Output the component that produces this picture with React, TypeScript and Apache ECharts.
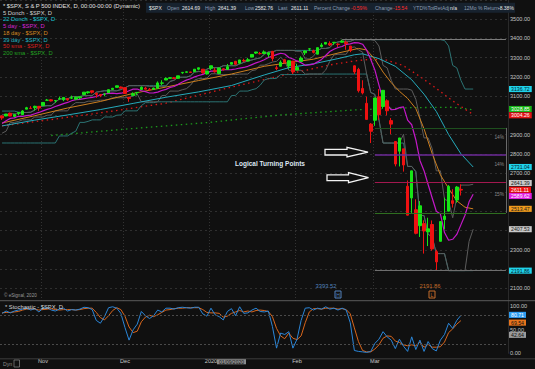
import React, { useEffect, useRef } from 'react';
import * as echarts from 'echarts';

// ---------- DATA ----------
const dates = [
  '10/18/2019','10/21/2019','10/22/2019','10/23/2019','10/24/2019','10/25/2019','10/28/2019','10/29/2019','10/30/2019','10/31/2019',
  '11/01/2019','11/04/2019','11/05/2019','11/06/2019','11/07/2019','11/08/2019','11/11/2019','11/12/2019','11/13/2019','11/14/2019',
  '11/15/2019','11/18/2019','11/19/2019','11/20/2019','11/21/2019','11/22/2019','11/25/2019','11/26/2019','11/27/2019','11/29/2019',
  '12/02/2019','12/03/2019','12/04/2019','12/05/2019','12/06/2019','12/09/2019','12/10/2019','12/11/2019','12/12/2019','12/13/2019',
  '12/16/2019','12/17/2019','12/18/2019','12/19/2019','12/20/2019','12/23/2019','12/24/2019','12/26/2019','12/27/2019','12/30/2019','12/31/2019',
  '01/02/2020','01/03/2020','01/06/2020','01/07/2020','01/08/2020','01/09/2020','01/10/2020','01/13/2020','01/14/2020','01/15/2020',
  '01/16/2020','01/17/2020','01/21/2020','01/22/2020','01/23/2020','01/24/2020','01/27/2020','01/28/2020','01/29/2020','01/30/2020','01/31/2020',
  '02/03/2020','02/04/2020','02/05/2020','02/06/2020','02/07/2020','02/10/2020','02/11/2020','02/12/2020','02/13/2020','02/14/2020',
  '02/18/2020','02/19/2020','02/20/2020','02/21/2020','02/24/2020','02/25/2020','02/26/2020','02/27/2020','02/28/2020',
  '03/02/2020','03/03/2020','03/04/2020','03/05/2020','03/06/2020','03/09/2020','03/10/2020','03/11/2020','03/12/2020','03/13/2020',
  '03/16/2020','03/17/2020','03/18/2020','03/19/2020','03/20/2020','03/23/2020','03/24/2020','03/25/2020','03/26/2020','03/27/2020','03/30/2020','03/31/2020'
];
const emptySlots = ['+1','+2','+3','+4','+5','+6','+7','+8','+9','+10','+11'];

const opens = [
  2996.8,2996.5,3010.7,2994.0,3014.8,3003.3,3032.1,3035.4,3039.7,3046.9,
  3050.7,3078.9,3080.8,3075.1,3087.0,3081.3,3080.3,3089.3,3084.2,3090.8,3107.9,3117.9,3127.5,3114.7,3108.5,3111.4,3117.4,3134.9,3145.5,3147.2,
  3143.8,3087.4,3103.5,3119.2,3134.6,3141.9,3135.4,3135.8,3141.2,3166.7,3183.6,3195.4,3195.2,3192.3,3223.3,3226.1,3225.5,3227.2,3247.2,3240.1,3215.2,
  3244.7,3226.4,3217.6,3241.9,3238.6,3266.0,3281.0,3271.1,3285.4,3282.3,3303.0,3323.7,3321.0,3330.0,3315.8,3333.1,3247.2,3255.4,3289.5,3256.5,3282.3,
  3235.7,3280.6,3324.9,3344.9,3335.5,3318.3,3365.9,3370.5,3365.9,3378.1,3369.0,3380.4,3380.5,3360.5,3257.6,3238.9,3139.9,3062.5,2916.9,
  2974.3,3096.5,3045.8,3075.7,2954.2,2863.9,2813.5,2825.6,2630.9,2570.0,2508.6,2425.7,2436.5,2393.5,2431.9,2290.7,2344.4,2457.8,2501.3,2555.9,2559.0,2614.7
];
const highs = [
  3000.0,3007.3,3014.6,3004.8,3016.1,3027.4,3044.1,3047.9,3050.1,3046.9,
  3066.9,3085.2,3083.9,3078.3,3097.8,3093.1,3088.3,3102.6,3098.1,3098.2,3120.5,3124.2,3127.6,3119.0,3110.1,3112.9,3133.8,3142.7,3154.3,3150.3,
  3144.3,3095.0,3119.4,3119.4,3150.6,3148.9,3142.1,3144.0,3176.3,3182.7,3197.7,3198.2,3198.5,3205.5,3225.6,3227.8,3226.4,3240.1,3247.9,3240.9,3231.7,
  3258.1,3246.2,3246.8,3244.9,3267.1,3275.6,3283.0,3288.1,3294.2,3298.7,3317.1,3329.9,3329.8,3337.8,3326.9,3333.2,3258.9,3285.8,3293.5,3285.9,3282.3,
  3268.4,3306.9,3337.6,3348.0,3341.4,3352.3,3375.6,3381.5,3385.1,3380.7,3375.0,3393.5,3389.2,3360.8,3259.8,3247.0,3182.5,3097.1,2959.7,
  3091.0,3136.7,3131.0,3083.0,2985.9,2863.9,2882.6,2825.6,2661.0,2711.3,2563.0,2553.9,2453.6,2467.0,2453.0,2300.7,2449.7,2571.4,2637.0,2615.9,2631.8,2641.4
];
const lows = [
  2976.3,2995.4,2995.0,2991.2,3000.4,3001.9,3032.1,3034.8,3025.0,3023.2,
  3050.7,3074.9,3072.2,3065.9,3080.3,3073.6,3075.8,3084.7,3078.8,3083.3,3104.6,3112.1,3113.5,3091.4,3094.6,3099.3,3117.4,3131.0,3143.4,3139.3,
  3110.8,3070.3,3102.5,3103.8,3134.6,3135.5,3126.1,3133.2,3138.5,3156.5,3183.6,3191.0,3191.1,3192.3,3216.0,3222.3,3220.5,3227.2,3234.4,3216.6,3212.0,
  3235.5,3222.3,3214.6,3232.4,3236.7,3263.7,3260.9,3268.4,3277.2,3280.7,3302.8,3318.9,3316.6,3320.0,3301.9,3281.5,3234.5,3253.2,3271.9,3242.8,3214.7,
  3235.7,3280.6,3313.8,3334.4,3322.1,3317.8,3352.7,3369.7,3360.5,3366.2,3355.6,3378.8,3341.0,3328.5,3214.7,3118.8,3109.0,2977.4,2855.8,
  2945.2,2976.6,3034.4,2999.8,2901.5,2734.4,2734.0,2707.2,2478.9,2492.4,2380.9,2367.0,2280.5,2319.8,2295.6,2191.9,2344.4,2407.5,2500.7,2520.0,2545.3,2582.8
];
const closes = [
  2986.2,3006.7,2996.0,3004.5,3010.3,3022.6,3039.4,3036.9,3046.8,3037.6,
  3066.9,3078.3,3074.6,3076.8,3085.2,3093.1,3087.0,3091.8,3094.0,3096.6,3120.5,3122.0,3120.2,3108.5,3103.5,3110.3,3133.6,3140.5,3153.6,3141.0,
  3113.9,3093.2,3112.8,3117.4,3145.9,3136.0,3132.5,3141.6,3168.6,3168.8,3191.5,3192.5,3191.1,3205.4,3221.2,3224.0,3223.4,3239.9,3240.0,3221.3,3230.8,
  3257.9,3234.9,3246.3,3237.2,3253.1,3274.7,3265.4,3288.1,3283.2,3289.3,3316.8,3329.6,3320.8,3321.8,3325.5,3295.5,3243.6,3276.2,3273.4,3283.7,3225.5,
  3248.9,3297.6,3334.7,3345.8,3327.7,3352.1,3357.8,3379.5,3373.9,3380.2,3370.3,3386.2,3373.2,3337.8,3225.9,3128.2,3116.4,2978.8,2954.2,
  3090.2,3003.4,3130.1,3023.9,2972.4,2746.6,2882.2,2741.4,2480.6,2711.0,2386.1,2529.2,2398.1,2409.4,2304.9,2237.4,2447.3,2475.6,2630.1,2541.5,2626.7,2611.1
];

// Displaced indicators, one value per chart slot (slot 0 .. 115)
const donch5Upper = [
  3003,3003,3008,3008,3008,3014.6,3014.6,3016.1,3027.4,3044.1,
  3047.9,3050.1,3050.1,3066.9,3085.2,3085.2,3085.2,3097.8,3097.8,3097.8,
  3102.6,3102.6,3102.6,3120.5,3124.2,3127.6,3127.6,3127.6,3127.6,3133.8,
  3142.7,3154.3,3154.3,3154.3,3154.3,3154.3,3150.3,3150.6,3150.6,3150.6,
  3150.6,3176.3,3182.7,3197.7,3198.2,3198.5,3205.5,3225.6,3227.8,3227.8,
  3240.1,3247.9,3247.9,3247.9,3258.1,3258.1,3258.1,3258.1,3267.1,3275.6,
  3283.0,3288.1,3294.2,3298.7,3317.1,3329.9,3329.9,3337.8,3337.8,3337.8,
  3337.8,3337.8,3333.2,3333.2,3293.5,3293.5,3306.9,3337.6,3348.0,3348.0,
  3352.3,3375.6,3381.5,3385.1,3385.1,3385.1,3393.5,3393.5,3393.5,3393.5,
  3393.5,3389.2,3360.8,3259.8,3247.0,3182.5,3136.7,3136.7,3136.7,3136.7,
  3131.0,3083.0,2985.9,2882.6,2882.6,2825.6,2711.3,2711.3,2563.0,2553.9,
  2467.0,2571.4,2637.0,2637.0,2637.0,2641.4
];
const donch5Lower = [
  2907,2918,2963,2963,2968,2976.3,2976.3,2976.3,2991.2,2991.2,
  2991.2,3000.4,3001.9,3023.2,3023.2,3023.2,3023.2,3050.7,3065.9,3065.9,
  3065.9,3073.6,3073.6,3075.8,3078.8,3078.8,3083.3,3091.4,3091.4,3091.4,
  3091.4,3094.6,3099.3,3110.8,3070.3,3070.3,3070.3,3070.3,3070.3,3102.5,
  3103.8,3126.1,3126.1,3126.1,3133.2,3138.5,3156.5,3183.6,3191.0,3191.1,
  3192.3,3216.0,3216.6,3212.0,3212.0,3212.0,3212.0,3212.0,3214.6,3214.6,
  3214.6,3232.4,3236.7,3260.9,3260.9,3268.4,3277.2,3280.7,3301.9,3281.5,
  3234.5,3234.5,3234.5,3234.5,3214.7,3214.7,3214.7,3214.7,3214.7,3235.7,
  3280.6,3313.8,3317.8,3317.8,3317.8,3352.7,3355.6,3341.0,3328.5,3214.7,
  3118.8,3109.0,2977.4,2855.8,2855.8,2855.8,2855.8,2855.8,2901.5,2734.4,
  2734.0,2707.2,2478.9,2478.9,2380.9,2367.0,2280.5,2280.5,2280.5,2191.9,
  2191.9,2191.9,2191.9,2191.9,2344.4,2407.5
];
const donch22Upper = [
  3022,3022,3022,3022,3016.4,3014.6,3014.6,3016.1,3027.4,3044.1,
  3047.9,3050.1,3050.1,3066.9,3085.2,3085.2,3085.2,3097.8,3097.8,3097.8,
  3102.6,3102.6,3102.6,3120.5,3124.2,3127.6,3127.6,3127.6,3127.6,3133.8,
  3142.7,3154.3,3154.3,3154.3,3154.3,3154.3,3154.3,3154.3,3154.3,3154.3,
  3154.3,3176.3,3182.7,3197.7,3198.2,3198.5,3205.5,3225.6,3227.8,3227.8,
  3240.1,3247.9,3247.9,3247.9,3258.1,3258.1,3258.1,3258.1,3267.1,3275.6,
  3283.0,3288.1,3294.2,3298.7,3317.1,3329.9,3329.9,3337.8,3337.8,3337.8,
  3337.8,3337.8,3337.8,3337.8,3337.8,3337.8,3337.8,3337.8,3348.0,3348.0,
  3352.3,3375.6,3381.5,3385.1,3385.1,3385.1,3393.5,3393.5,3393.5,3393.5,
  3393.5,3393.5,3393.5,3393.5,3393.5,3393.5,3393.5,3393.5,3393.5,3393.5,
  3393.5,3393.5,3393.5,3393.5,3393.5,3393.5,3393.5,3393.5,3389.2,3360.8,
  3259.8,3247.0,3182.5,3136.7,3136.7,3136.7
];
const donch22Lower = [
  2856,2856,2856,2856,2856,2856,2856,2856,2856,2856,
  2856,2856,2856,2856,2892.7,2892.7,2892.7,2907.1,2917.6,2963.4,
  2962.9,2968.4,2976.3,2976.3,2976.3,2991.2,2991.2,2991.2,3000.4,3001.9,
  3023.2,3023.2,3023.2,3023.2,3050.7,3065.9,3065.9,3065.9,3070.3,3070.3,
  3070.3,3070.3,3070.3,3070.3,3070.3,3070.3,3070.3,3070.3,3070.3,3070.3,
  3070.3,3070.3,3070.3,3070.3,3070.3,3070.3,3102.5,3103.8,3126.1,3126.1,
  3126.1,3133.2,3138.5,3156.5,3183.6,3191.0,3191.1,3192.3,3212.0,3212.0,
  3212.0,3212.0,3212.0,3212.0,3212.0,3214.6,3214.6,3214.6,3214.7,3214.7,
  3214.7,3214.7,3214.7,3214.7,3214.7,3214.7,3214.7,3214.7,3214.7,3214.7,
  3118.8,3109.0,2977.4,2855.8,2855.8,2855.8,2855.8,2855.8,2855.8,2734.4,
  2734.0,2707.2,2478.9,2478.9,2380.9,2367.0,2280.5,2280.5,2280.5,2191.9,
  2191.9,2191.9,2191.9,2191.9,2191.9,2191.9
];
const day5 = [
  2958,2972,2984,2987,2995,2995,2998,3001,3008,3015,
  3023,3031,3037,3046,3053,3061,3067,3076,3082,3083,
  3087,3090,3093,3098,3105,3111,3114,3115,3113,3115,
  3119,3128,3136,3137,3128,3123,3116,3117,3121,3129,
  3135,3145,3150,3161,3173,3183,3190,3200,3207,3213,
  3223,3230,3230,3231,3238,3237,3238,3241,3246,3249,
  3255,3264,3273,3280,3289,3301,3308,3316,3323,3319,
  3301,3293,3283,3274,3260,3262,3266,3278,3291,3311,
  3332,3344,3353,3358,3369,3372,3378,3377,3370,3339,
  3290,3236,3157,3081,3054,3029,3031,3040,3044,2975,
  2951,2873,2765,2712,2640,2570,2501,2487,2390,2350,
  2355,2380,2430,2480,2550,2589.6
];
// [slot, value] readings
const day18 = [
  [0,2960],[8,2998],[16,3038],[24,3072],[32,3114],[40,3147],[48,3181],[56,3215],[64,3255],[70,3274],
  [76,3292],[82,3324],[87,3348],[89,3340],[91,3292],[93,3225],[95,3170],[97,3125],[99,3088],[101,3035],
  [103,2930],[105,2800],[107,2690],[109,2620],[111,2555],[113,2522],[115,2513.47]
];
const day39 = [
  [0,2945],[8,2975],[16,3002],[24,3030],[32,3062],[40,3094],[48,3122],[56,3155],[64,3210],[70,3248],
  [76,3268],[82,3295],[86,3315],[88,3320],[92,3295],[96,3255],[100,3185],[103,3110],[106,3020],[109,2900],
  [112,2800],[115,2731.04]
];
const sma50 = [
  [0,2945],[12,2978],[24,3013],[40,3063],[56,3147],[70,3215],[80,3262],[86,3283],[90,3292],[94,3287],
  [98,3258],[102,3202],[106,3140],[110,3075],[113,3032],[115,3004.26]
];
const sma200 = [
  [12,2895],[30,2928],[50,2962],[68,3002],[86,3028],[100,3040],[110,3042],[115,3028.85]
];

// Stochastic (one value per bar)
const stochK = [
  85,90,86,90,92,94,96,92,95,88, 96,97,92,90,94,96,90,93,92,94,
  98,97,93,70,64,78,97,99,96,85, 55,28,50,62,89,80,74,80,92,88,
  96,96,94,97,98,97,96,98,98,84, 79,96,82,78,71,89,95,80,99,85,
  86,92,96,89,88,90,57,11,43,40, 46,11,30,70,96,97,92,96,94,99,
  94,96,92,96,92,65,6,4,3,2, 4,21,30,46,35,28,10,30,15,4,
  35,8,28,4,25,10,5,28,40,64, 53,70,80.71
];
const stochD = [
  86,87,87,88,89,92,94,94,94,92, 93,94,95,93,92,93,93,93,92,93,
  95,96,96,87,76,71,80,91,97,93, 79,56,44,47,67,77,81,78,82,87,
  92,93,95,96,96,97,97,97,97,93, 87,86,86,85,77,79,85,88,91,88,
  90,88,91,92,91,89,78,53,37,31, 43,32,29,37,65,88,95,95,94,96,
  96,96,94,95,93,84,54,25,6,3, 3,9,18,32,37,36,26,23,18,16,
  18,16,24,13,19,13,13,14,24,44, 52,62,69.54
];

// Retracement levels drawn from the Feb high to the Mar low
const fibLevels = [3393.52, 2934.5, 2792.7, 2650.9, 2492.3, 2191.86];
const fibStart = [83, 91, 91, 91, 91, 91];
const fibColors = ['#7a7a7a', '#1e4f1e', '#6c2a98', '#a3184f', '#2e6e1f', '#6e6e6e'];

// Axis value flags
const priceFlagValues = [3136.72, 3028.85, 3004.26, 2731.04, 2641.39, 2611.11, 2589.62, 2513.47, 2407.53, 2191.86];
const priceFlagBg = ['#1fd3ea', '#17b417', '#e31414', '#1fd3ea', '#c8c8c8', '#f01010', '#e01ee0', '#f09a1c', '#c8c8c8', '#1fd3ea'];
const priceFlagFg = ['#062530', '#ffffff', '#ffffff', '#062530', '#202020', '#ffffff', '#ffffff', '#202020', '#202020', '#062530'];
const priceFlagShift = [0, -0.8, 0.8, 0, -1.2, -0.3, 1.8, 0, 0, 0];
const stochFlagValues = [80.71, 69.54, 42.64];
const stochFlagBg = ['#2e9cf0', '#e8741c', '#9a9a9a'];
const stochFlagFg = ['#ffffff', '#101010', '#101010'];
const stochFlagShift = [-0.5, 2, 1.6];

const monthTickDates = ['11/01/2019', '12/02/2019', '01/02/2020', '02/03/2020', '03/02/2020'];
const monthTickText = ['Nov', 'Dec', '2020', 'Feb', 'Mar'];
const cursorDate = '01/09/2020';

const legendTexts = [
  '* $SPX, S & P 500 INDEX, D, 00:00-00:00 (Dynamic)',
  '5 Donch - $SPX, D', '22 Donch - $SPX, D', '5 day - $SPX, D', '18 day - $SPX, D',
  '39 day - $SPX, D', '50 sma - $SPX, D', '200 sma - $SPX, D'
];
const legendColors = ['#e2e2e2', '#cfcfcf', '#18c4d4', '#d424d4', '#d88a22', '#22b4c4', '#d42020', '#22a022'];

const headerItems: [string, number, string][] = [
  ['$SPX', 149, '#e8e8e8'], ['Open', 167, '#8d9db2'], ['2614.69', 182, '#e8e8e8'],
  ['High', 205, '#8d9db2'], ['2641.39', 218, '#e8e8e8'], ['Low', 245, '#8d9db2'], ['2582.76', 255, '#e8e8e8'],
  ['Last', 278, '#8d9db2'], ['2611.11', 291, '#e8e8e8'], ['Percent Change', 314, '#8d9db2'], ['-0.59%', 351, '#ff2b2b'],
  ['Change', 375, '#8d9db2'], ['-15.54', 393, '#ff2b2b'], ['YTD%TotRetAdj', 413, '#8d9db2'], ['n/a', 450, '#e8e8e8'],
  ['12Mo % Return', 464, '#8d9db2'], ['-8.38%', 498, '#e8e8e8']
];

// ---------- STYLE ----------
const BG = '#101010';
const UP = '#16e616';
const DOWN = '#ee1111';
const FONT = '"Liberation Sans", Arial, sans-serif';

function txt(x: number, y: number, text: string, fill: string, size = 5.8, align = 'left', weight = 'normal') {
  return {
    type: 'text', x, y, z: 100, silent: true,
    style: {
      text, fill, font: `${weight} ${size}px ${FONT}`,
      textAlign: align, align, textVerticalAlign: 'middle', verticalAlign: 'middle'
    }
  };
}

function arrow(x0: number, xb: number, x1: number, cy: number, sh: number, hh: number) {
  return {
    type: 'polygon', z: 100, silent: true,
    shape: { points: [[x0, cy - sh], [xb, cy - sh], [xb, cy - hh], [x1, cy], [xb, cy + hh], [xb, cy + sh], [x0, cy + sh]] },
    style: { fill: BG, stroke: '#f2f2f2', lineWidth: 1.3 }
  };
}

function buildOption() {
  const cats = dates.concat(emptySlots);
  const candleData = closes.map((c, i) => {
    const up = i === 0 ? c >= opens[i] : c >= closes[i - 1];
    const col = up ? UP : DOWN;
    return {
      value: [opens[i], c, lows[i], highs[i]],
      itemStyle: { color: col, color0: col, borderColor: col, borderColor0: col, borderColorDoji: col }
    };
  });

  const lastSlot = cats.length - 1;
  const fibLines: any[] = fibLevels.map((v, k) => [
    { coord: [fibStart[k], v], lineStyle: { color: fibColors[k], width: k === 2 ? 1.6 : 1.2, type: 'solid' } },
    { coord: [lastSlot, v] }
  ]);
  fibLines.push([
    { coord: [lastSlot, fibLevels[1]], lineStyle: { color: '#6a6a6a', width: 1, type: 'solid' } },
    { coord: [lastSlot, fibLevels[4]] }
  ]);

  const flag = (v: number, bg: string, fg: string, dy: number) => ({
    yAxis: v,
    lineStyle: { width: 0, color: 'rgba(0,0,0,0)' },
    label: {
      show: true, position: 'end', distance: 1, formatter: v.toFixed(2), offset: [0, dy],
      backgroundColor: bg, color: fg, fontSize: 5.2, fontFamily: FONT,
      padding: [0.5, 2, 0, 2], lineHeight: 5.6
    }
  });

  const lineS = (name: string, data: any[], color: string, extra: any = {}) => ({
    name, type: 'line', xAxisIndex: 0, yAxisIndex: 0, data, symbol: 'none', silent: true,
    lineStyle: { color, width: 1, ...(extra.lineStyle || {}) },
    z: extra.z ?? 2, ...(extra.rest || {})
  });

  const graphic: any[] = [
    { type: 'rect', z: 1, silent: true, shape: { x: 0, y: 301, width: 508, height: 58 }, style: { fill: BG } },
    { type: 'line', z: 100, silent: true, shape: { x1: 0, y1: 300.7, x2: 535, y2: 300.7 }, style: { stroke: '#5a5a5a', lineWidth: 1 } },
    { type: 'line', z: 100, silent: true, shape: { x1: 0, y1: 358.8, x2: 535, y2: 358.8 }, style: { stroke: '#3c3c3c', lineWidth: 1 } },
    { type: 'rect', z: 99, silent: true, shape: { x: 146, y: 2.7, width: 369, height: 10 }, style: { fill: '#17222e' } },
    ...headerItems.map(([t, x, c]) => txt(x, 7.9, t, c, 5)),
    ...legendTexts.map((t, k) => txt(3, 6 + 6.7 * k, t, legendColors[k], 5.8)),
    txt(235, 163, 'Logical Turning Points', '#dde7f2', 6.5, 'left', 'bold'),
    arrow(325, 347, 368, 152.2, 2.8, 4.8),
    arrow(327, 348.5, 368.5, 177.7, 2.9, 5),
    txt(504, 137, '14%', '#8a8a8a', 4.8, 'right'),
    txt(504, 164, '14%', '#8a8a8a', 4.8, 'right'),
    txt(504, 194, '15%', '#8a8a8a', 4.8, 'right'),
    txt(326, 286, '3393.52', '#5282bd', 5.8, 'center'),
    txt(430, 286, '2191.86', '#c46c2a', 5.8, 'center'),
    { type: 'rect', z: 100, silent: true, shape: { x: 335, y: 291, width: 6, height: 7 }, style: { fill: BG, stroke: '#5282bd', lineWidth: 1 } },
    txt(338, 294.7, 'H', '#5282bd', 5, 'center'),
    { type: 'rect', z: 100, silent: true, shape: { x: 429, y: 291, width: 6, height: 7 }, style: { fill: BG, stroke: '#c46c2a', lineWidth: 1 } },
    txt(432, 294.7, 'L', '#c46c2a', 5, 'center'),
    txt(4, 295.5, '© eSignal, 2020', '#9a9a9a', 4.6),
    txt(5, 307, '* Stochastic - $SPX, D', '#d4d4d4', 5.8),
    txt(3, 363.5, 'Dyn', '#8a8a8a', 5.2),
    { type: 'rect', z: 100, silent: true, shape: { x: 14, y: 360, width: 5.5, height: 7 }, style: { fill: BG, stroke: '#7a7a7a', lineWidth: 0.8 } },
  ];

  // tick labels that sit under a value flag are covered in the reference
  const coveredByFlag = (v: number) => priceFlagValues.some((f) => Math.abs(f - v) < 22);

  return {
    animation: false,
    backgroundColor: BG,
    textStyle: { fontFamily: FONT },
    grid: [
      { left: 0, width: 508, top: -9.65, height: 317.17 },
      { left: 0, width: 508, top: 306.3, height: 47 }
    ],
    xAxis: [
      {
        type: 'category', gridIndex: 0, data: cats, boundaryGap: true,
        axisLine: { show: false }, axisTick: { show: false }, axisLabel: { show: false },
        splitLine: {
          show: true, interval: (_i: number, v: string) => monthTickDates.includes(v),
          lineStyle: { color: '#333333', type: [1, 2], width: 1 }
        }
      },
      {
        type: 'category', gridIndex: 1, data: cats, boundaryGap: true,
        axisLine: { show: false }, axisTick: { show: false }, splitLine: { show: false },
        axisLabel: {
          interval: (_i: number, v: string) => monthTickDates.includes(v) || v === cursorDate,
          formatter: (v: string) => v === cursorDate ? `{d|${v}}` : (monthTickText[monthTickDates.indexOf(v)] ?? ''),
          color: '#c8c8c8', fontSize: 5.6, margin: 5,
          rich: { d: { backgroundColor: '#8c8c8c', color: '#121212', fontSize: 5, padding: [1, 2, 0, 2] } }
        }
      }
    ],
    yAxis: [
      {
        type: 'value', gridIndex: 0, position: 'right', min: 2000, max: 3600, interval: 100,
        axisLine: { show: true, lineStyle: { color: '#2a2a2a' } }, axisTick: { show: false },
        axisLabel: {
          color: '#c4c4c4', fontSize: 5.6, margin: 2,
          formatter: (v: number) => (v <= 2000 || v >= 3600 || coveredByFlag(v) ? '' : v.toFixed(2))
        },
        splitLine: { show: true, lineStyle: { color: '#2f2f2f', type: [2, 3], width: 1 } }
      },
      {
        type: 'value', gridIndex: 1, position: 'right', min: 0, max: 100, interval: 50,
        axisLine: { show: true, lineStyle: { color: '#2a2a2a' } }, axisTick: { show: false },
        axisLabel: { color: '#c4c4c4', fontSize: 5.6, margin: 2, formatter: (v: number) => v.toFixed(2) },
        splitLine: { show: false }
      }
    ],
    series: [
      lineS('200 sma', sma200, '#1c9a1c', {
        lineStyle: { type: [1.5, 3.5], width: 1.3 },
        rest: {
          markLine: { silent: true, symbol: ['none', 'none'], label: { show: false }, lineStyle: { type: 'solid' }, data: fibLines }
        }
      }),
      lineS('50 sma', sma50, '#d81818', { lineStyle: { type: [1.5, 3.5], width: 1.3 } }),
      lineS('22 Donch upper', donch22Upper, '#2b7373'),
      lineS('22 Donch lower', donch22Lower, '#2b7373'),
      lineS('5 Donch upper', donch5Upper, '#5c5c5c'),
      lineS('5 Donch lower', donch5Lower, '#5c5c5c'),
      lineS('39 day', day39, '#25aabb'),
      lineS('18 day', day18, '#cc7e1e'),
      lineS('5 day', day5, '#c418c8', { lineStyle: { width: 1.2 } }),
      {
        name: '$SPX', type: 'candlestick', xAxisIndex: 0, yAxisIndex: 0, data: candleData,
        barWidth: 3, silent: true, z: 3,
        markLine: {
          silent: true, symbol: ['none', 'none'],
          data: priceFlagValues.map((v, k) => flag(v, priceFlagBg[k], priceFlagFg[k], priceFlagShift[k]))
        }
      },
      {
        name: '%D', type: 'line', xAxisIndex: 1, yAxisIndex: 1, data: stochD, symbol: 'none', silent: true,
        lineStyle: { color: '#d9661c', width: 1 },
        markLine: {
          silent: true, symbol: ['none', 'none'], label: { show: false },
          lineStyle: { color: '#4a4a4a', type: [2, 2], width: 1 },
          data: [{ yAxis: 80 }, { yAxis: 20 }]
        }
      },
      {
        name: '%K', type: 'line', xAxisIndex: 1, yAxisIndex: 1, data: stochK, symbol: 'none', silent: true,
        lineStyle: { color: '#2b86d8', width: 1 },
        markLine: {
          silent: true, symbol: ['none', 'none'],
          data: stochFlagValues.map((v, k) => flag(v, stochFlagBg[k], stochFlagFg[k], stochFlagShift[k]))
        }
      }
    ],
    graphic
  };
}

export default function App() {
  const ref = useRef<HTMLDivElement>(null);
  useEffect(() => {
    const chart = echarts.init(ref.current as HTMLDivElement, null, { renderer: 'svg' });
    chart.setOption(buildOption() as any);
    return () => chart.dispose();
  }, []);
  return (
    <div
      ref={ref}
      style={{ position: 'fixed', left: 0, top: 0, width: 535, height: 369, background: BG }}
    />
  );
}
